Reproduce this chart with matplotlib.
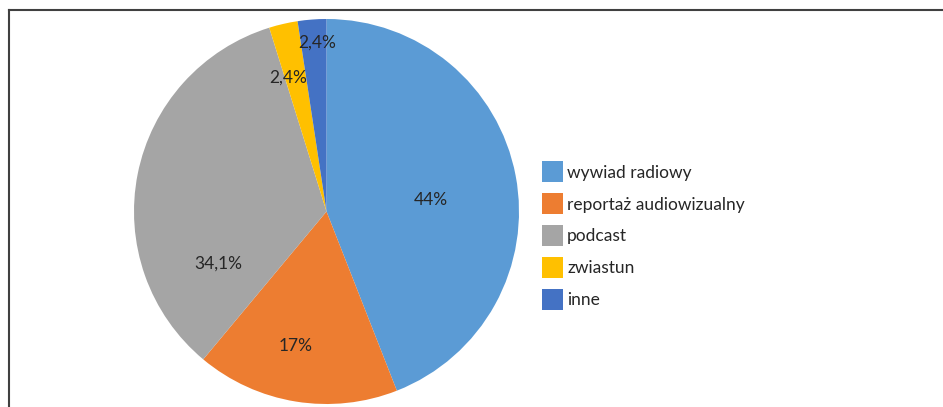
import matplotlib
matplotlib.use("Agg")
import matplotlib.pyplot as plt
from matplotlib.lines import Line2D

categories = ["wywiad radiowy", "reportaż audiowizualny", "podcast", "zwiastun", "inne"]
values = [44, 17, 34.1, 2.4, 2.4]
pct_labels = ["44%", "17%", "34,1%", "2,4%", "2,4%"]
colors = ["#5B9BD5", "#ED7D31", "#A5A5A5", "#FFC000", "#4472C4"]
# label positions in pie-radius units (relative to centre)
label_pos = [(0.543, 0.060), (-0.158, -0.699), (-0.564, -0.273), (-0.200, 0.694), (-0.049, 0.875)]

plt.rcParams['font.family'] = ['Lato', 'DejaVu Sans']
W, H = 943, 407
fig = plt.figure(figsize=(W / 100, H / 100), dpi=100)

cx, cy, r = 326.5, 211.5, 192.5
ax = fig.add_axes([(cx - r) / W, (H - cy - r) / H, 2 * r / W, 2 * r / H])
wedges, _ = ax.pie(values, colors=colors, startangle=90, counterclock=False,
                   radius=1.0, wedgeprops=dict(linewidth=0))
ax.set_xlim(-1, 1)
ax.set_ylim(-1, 1)
ax.set_aspect('equal')
ax.axis('off')

txt_color = "#262626"
for (x, y), lab in zip(label_pos, pct_labels):
    ax.text(x, y, lab, ha='center', va='center', fontsize=12.5, color=txt_color)

fig.legend(wedges, categories, loc='upper left',
           bbox_to_anchor=(542 / W, 1 - 161.5 / H), frameon=False,
           fontsize=12.5, handlelength=1.2, handleheight=1.48,
           handletextpad=0.25, labelspacing=0.63, borderpad=0, borderaxespad=0,
           labelcolor=txt_color)

# frame lines (left and top)
fig.add_artist(Line2D([9 / W, 9 / W], [0, 1 - 10 / H], transform=fig.transFigure,
                      color="#404040", linewidth=1.5))
fig.add_artist(Line2D([9 / W, 1], [1 - 10 / H, 1 - 10 / H], transform=fig.transFigure,
                      color="#404040", linewidth=1.5))

fig.savefig("out.png", dpi=100)
